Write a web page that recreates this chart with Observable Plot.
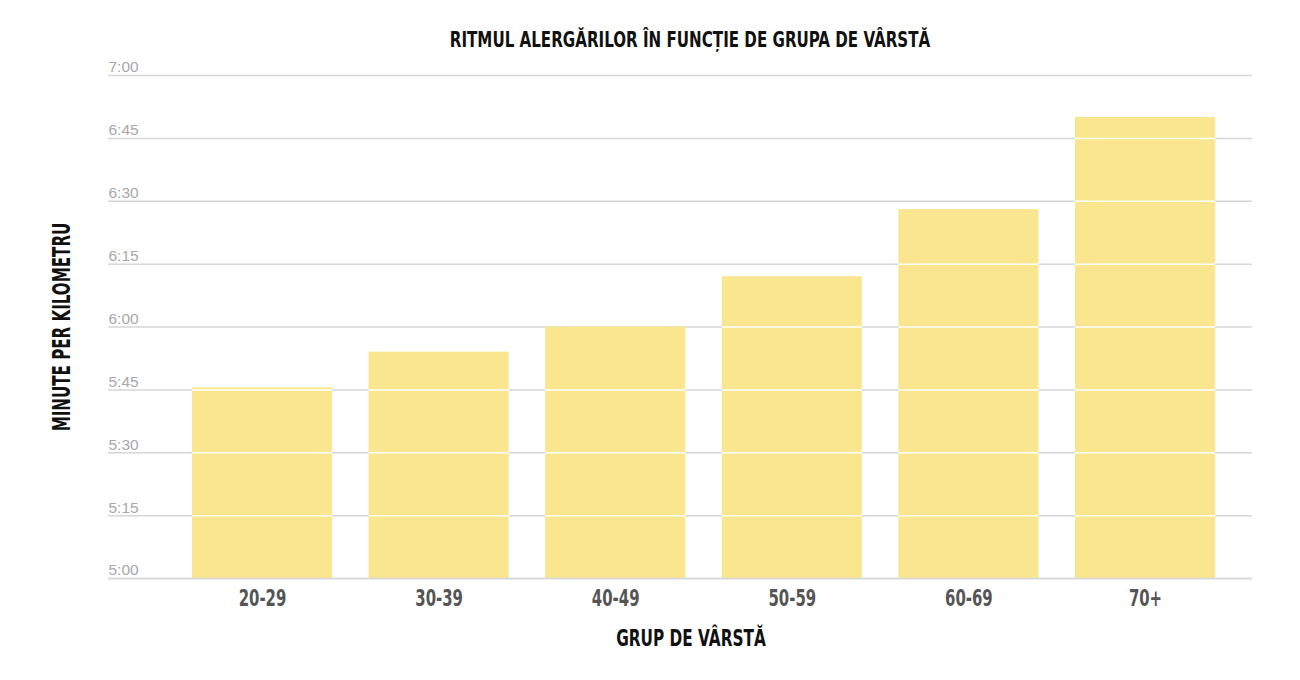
<!DOCTYPE html>
<html>
<head>
<meta charset="utf-8">
<script src="https://cdn.jsdelivr.net/npm/d3@7"></script>
<script src="https://cdn.jsdelivr.net/npm/@observablehq/plot@0.6"></script>
<style>
  html, body { margin: 0; padding: 0; background: #fff; }
  #wrap { position: relative; width: 1300px; height: 680px; }
  .cond { font-family: "DejaVu Sans Condensed", "DejaVu Sans", sans-serif; font-weight: bold; color: #111; position: absolute; white-space: nowrap; }
  #title { left: 690px; top: 40px; transform: translate(-50%, -50%) scaleX(0.80); font-size: 21px; }
  #xlabel { left: 691px; top: 638px; transform: translate(-50%, -50%) scaleX(0.74); font-size: 23px; }
  #ylabel { left: 62px; top: 327px; transform: translate(-50%, -50%) rotate(-90deg) scaleX(0.70); font-size: 24px; }
  #chart { position: absolute; left: 0; top: 0; }
</style>
</head>
<body>
<div id="wrap">
  <div id="chart"></div>
  <div id="title" class="cond">RITMUL ALERGĂRILOR ÎN FUNCȚIE DE GRUPA DE VÂRSTĂ</div>
  <div id="xlabel" class="cond">GRUP DE VÂRSTĂ</div>
  <div id="ylabel" class="cond">MINUTE PER KILOMETRU</div>
</div>
<script>
const ageGroups = ["20-29", "30-39", "40-49", "50-59", "60-69", "70+"];
// pace in seconds per km
const paceSeconds = [345.5, 354, 360, 372, 388, 410];
const yTicks = [300, 315, 330, 345, 360, 375, 390, 405, 420];
const yTickLabels = ["5:00", "5:15", "5:30", "5:45", "6:00", "6:15", "6:30", "6:45", "7:00"];
const yMin = 300, yMax = 420;

const data = ageGroups.map((g, i) => ({group: g, pace: paceSeconds[i]}));
const overTicks = [];
data.forEach(d => yTicks.forEach(t => { if (t > yMin && t < d.pace) overTicks.push({group: d.group, v: t}); }));

const condFont = '"DejaVu Sans Condensed", "DejaVu Sans", sans-serif';

const chart = Plot.plot({
  width: 1300,
  height: 680,
  marginLeft: 108,
  marginRight: 48,
  marginTop: 75,
  marginBottom: 102,
  style: {background: "transparent", overflow: "visible"},
  x: {domain: ageGroups, range: [173.7, 1233.3], paddingInner: 0.207, paddingOuter: 0.1035, round: false, axis: null},
  y: {domain: [yMin, yMax], axis: null},
  marks: [
    Plot.ruleY(yTicks, {stroke: "#d6d6d6", strokeWidth: 1.5}),
    Plot.barY(data, {x: "group", y1: () => yMin, y2: "pace", fill: "#f9e68f"}),
    Plot.tickY(overTicks, {x: "group", y: "v", stroke: "#ffffff", strokeWidth: 1.5}),
    Plot.ruleY([yMin], {stroke: "#d6d6d6", strokeWidth: 1.5}),
    Plot.text(yTicks, {y: d => d, text: (d, i) => yTickLabels[i], frameAnchor: "left", textAnchor: "start", dy: -8, fill: "#a8a8a8", fontSize: 15.5, fontFamily: "Liberation Sans, Arial, sans-serif"}),
    Plot.text(ageGroups, {x: d => d, text: d => d, frameAnchor: "bottom", dy: 27, fill: "#555555", fontSize: 23, fontWeight: "bold", fontFamily: condFont, className: "xlab"})
  ]
});
document.getElementById("chart").appendChild(chart);
// horizontally condense the x tick labels to mimic the reference's condensed face
chart.querySelectorAll(".xlab text").forEach(t => {
  const w = t.getComputedTextLength();
  t.setAttribute("textLength", (w * 0.72).toFixed(1));
  t.setAttribute("lengthAdjust", "spacingAndGlyphs");
});
</script>
</body>
</html>
